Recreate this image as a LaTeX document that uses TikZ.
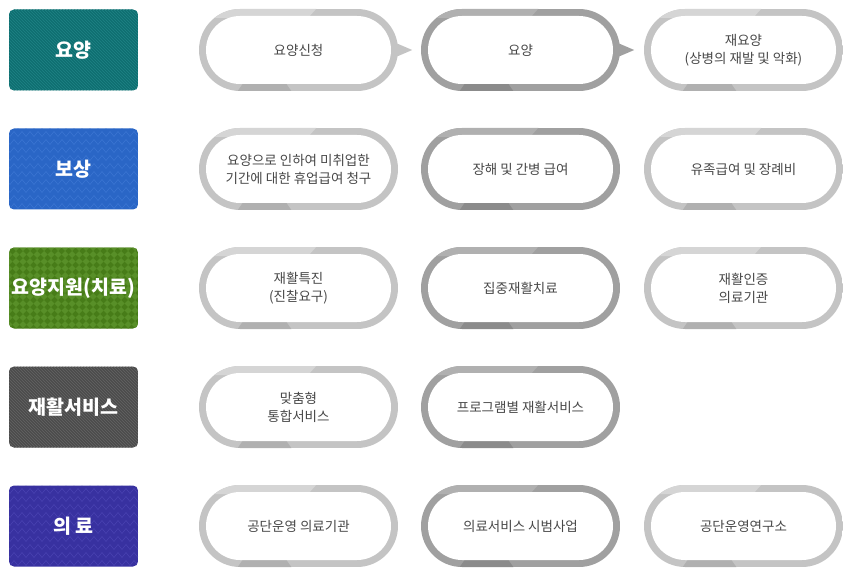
\documentclass[tikz,border=0pt]{standalone}
\usepackage{fontspec}
\newfontfamily\kr{Noto Sans CJK KR}
\usetikzlibrary{patterns,decorations.pathmorphing}
\definecolor{lbase}{HTML}{C4C4C4}
\definecolor{llight}{HTML}{D5D5D5}
\definecolor{ldark}{HTML}{B0B0B0}
\definecolor{dbase}{HTML}{A0A0A0}
\definecolor{dlight}{HTML}{B0B0B0}
\definecolor{ddark}{HTML}{8B8B8B}
\definecolor{txtgray}{HTML}{484848}
\definecolor{teal1}{HTML}{0F6F71}
\definecolor{teal2}{HTML}{1E8385}
\definecolor{blue1}{HTML}{2A66C6}
\definecolor{blue2}{HTML}{3A74D2}
\definecolor{green1}{HTML}{477C18}
\definecolor{green2}{HTML}{588F28}
\definecolor{gray1}{HTML}{4C4C4C}
\definecolor{gray2}{HTML}{646464}
\definecolor{purp1}{HTML}{3831A0}
\definecolor{purp2}{HTML}{4841B0}
\tikzset{
  boxtxt/.style={font=\kr\bfseries\fontsize{19.5}{22}\selectfont, text=white, inner sep=0pt},
  pillnode/.style={font=\kr\fontsize{13.5}{18}\selectfont, text=txtgray, align=center,
    minimum width=199pt, minimum height=82pt, inner sep=0pt},
  zz/.style={decorate, decoration={zigzag, segment length=8pt, amplitude=2.5pt}, line width=0.6pt},
}
% ring: x0, yc, base, light, dark
\newcommand\pillring[5]{%
  \begin{scope}
    \clip[rounded corners=41pt] (#1,#2-41) rectangle ++(199,82);
    \fill[#3] (#1,#2-41) rectangle ++(199,82);
    \fill[#4] (#1-1,#2-42) -- (#1+118,#2-42) -- (#1+109,#2-32) -- (#1-1,#2-32) -- cycle;
    \fill[#5] (#1+38,#2+42) -- (#1+93,#2+42) -- (#1+86,#2+32) -- (#1+45,#2+32) -- cycle;
  \end{scope}
  \fill[white, rounded corners=34pt] (#1+7,#2-34) rectangle ++(185,68);
}
\newcommand\boxclip[1]{\clip[rounded corners=5pt] (9,#1-40.5) rectangle (138,#1+40.5);}
\begin{document}
\begin{tikzpicture}[x=1pt,y=-1pt]
\useasboundingbox (0,0) rectangle (850,577);
\fill[white] (0,0) rectangle (850,577);

% ---- left category boxes ----
\begin{scope}
  \boxclip{50}
  \fill[teal1] (9,9) rectangle (138,91);
  \fill[pattern=north west lines, pattern color=teal2] (9,9) rectangle (138,91);
\end{scope}
\begin{scope}
  \boxclip{169}
  \fill[blue1] (9,128) rectangle (138,210);
  \foreach \yy in {0,8,...,88} \draw[zz, blue2] (4,126+\yy) -- (144,126+\yy);
\end{scope}
\begin{scope}
  \boxclip{288}
  \fill[green1] (9,247) rectangle (138,329);
  \foreach \i in {0,...,19} \foreach \j in {0,...,12}
    \fill[green2] ({9+7*\i},{247.5+7*\j-3.5}) -- ++(3.5,3.5) -- ++(-3.5,3.5) -- ++(-3.5,-3.5) -- cycle;
\end{scope}
\begin{scope}
  \boxclip{407}
  \fill[gray1] (9,366) rectangle (138,448);
  \fill[pattern=north west lines, pattern color=gray2] (9,366) rectangle (138,448);
\end{scope}
\begin{scope}
  \boxclip{526}
  \fill[purp1] (9,485) rectangle (138,567);
  \foreach \yy in {0,8,...,88} \draw[zz, purp2] (4,483+\yy) -- (144,483+\yy);
\end{scope}

\node[boxtxt] (c1) at (73.5,50) {요양};
\node[boxtxt] (c2) at (73.5,169) {보상};
\node[boxtxt] (c3) at (73.5,288) {요양지원(치료)};
\node[boxtxt] (c4) at (73.5,407) {재활서비스};
\node[boxtxt] (c5) at (73.5,526) {의 료};

% ---- pill rings ----
\pillring{199}{50}{lbase}{llight}{ldark}
\pillring{421}{50}{dbase}{dlight}{ddark}
\pillring{644}{50}{lbase}{llight}{ldark}
\pillring{199}{169}{lbase}{llight}{ldark}
\pillring{421}{169}{dbase}{dlight}{ddark}
\pillring{644}{169}{lbase}{llight}{ldark}
\pillring{199}{288}{lbase}{llight}{ldark}
\pillring{421}{288}{dbase}{dlight}{ddark}
\pillring{644}{288}{lbase}{llight}{ldark}
\pillring{199}{407}{lbase}{llight}{ldark}
\pillring{421}{407}{dbase}{dlight}{ddark}
\pillring{199}{526}{lbase}{llight}{ldark}
\pillring{421}{526}{dbase}{dlight}{ddark}
\pillring{644}{526}{lbase}{llight}{ldark}

% ---- pill texts ----
\node[pillnode] (p11) at (298.5,50) {요양신청};
\node[pillnode] (p12) at (520.5,50) {요양};
\node[pillnode] (p13) at (743.5,50) {재요양\\(상병의 재발 및 악화)};
\node[pillnode] (p21) at (298.5,169) {요양으로 인하여 미취업한\\기간에 대한 휴업급여 청구};
\node[pillnode] (p22) at (520.5,169) {장해 및 간병 급여};
\node[pillnode] (p23) at (743.5,169) {유족급여 및 장례비};
\node[pillnode] (p31) at (298.5,288) {재활특진\\(진찰요구)};
\node[pillnode] (p32) at (520.5,288) {집중재활치료};
\node[pillnode] (p33) at (743.5,288) {재활인증\\의료기관};
\node[pillnode] (p41) at (298.5,407) {맞춤형\\통합서비스};
\node[pillnode] (p42) at (520.5,407) {프로그램별 재활서비스};
\node[pillnode] (p51) at (298.5,526) {공단운영 의료기관};
\node[pillnode] (p52) at (520.5,526) {의료서비스 시범사업};
\node[pillnode] (p53) at (743.5,526) {공단운영연구소};

% ---- arrow tips ----
\fill[lbase] (p11.east) ++(-7,-9) -- ++(21,9) -- ++(-21,9) -- cycle;
\fill[dbase] (p12.east) ++(-7,-9) -- ++(21,9) -- ++(-21,9) -- cycle;
\end{tikzpicture}
\end{document}
